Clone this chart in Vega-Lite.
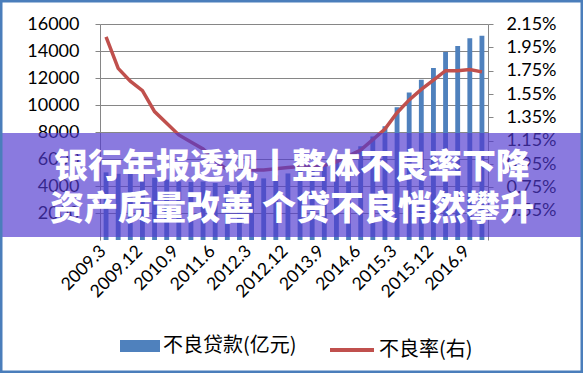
{
  "$schema": "https://vega.github.io/schema/vega-lite/v6.json",
  "width": 388,
  "height": 216,
  "autosize": {"type": "none"},
  "padding": {"left": 100, "top": 24, "right": 95, "bottom": 133},
  "background": "white",
  "config": {"view": {"stroke": null}},
  "data": {"values": [
    {"q": "2009.3", "npl": 5011, "rate": 2.04},
    {"q": "2009.6", "npl": 4904, "rate": 1.77},
    {"q": "2009.9", "npl": 4980, "rate": 1.66},
    {"q": "2009.12", "npl": 4973, "rate": 1.58},
    {"q": "2010.3", "npl": 4614, "rate": 1.40},
    {"q": "2010.6", "npl": 4470, "rate": 1.30},
    {"q": "2010.9", "npl": 4350, "rate": 1.20},
    {"q": "2010.12", "npl": 4293, "rate": 1.14},
    {"q": "2011.3", "npl": 4333, "rate": 1.08},
    {"q": "2011.6", "npl": 4220, "rate": 0.98},
    {"q": "2011.9", "npl": 4078, "rate": 0.90},
    {"q": "2011.12", "npl": 4279, "rate": 0.92},
    {"q": "2012.3", "npl": 4382, "rate": 0.90},
    {"q": "2012.6", "npl": 4564, "rate": 0.90},
    {"q": "2012.9", "npl": 4788, "rate": 0.91},
    {"q": "2012.12", "npl": 4929, "rate": 0.92},
    {"q": "2013.3", "npl": 5265, "rate": 0.93},
    {"q": "2013.6", "npl": 5395, "rate": 0.93},
    {"q": "2013.9", "npl": 5636, "rate": 0.94},
    {"q": "2013.12", "npl": 5921, "rate": 0.97},
    {"q": "2014.3", "npl": 6461, "rate": 1.02},
    {"q": "2014.6", "npl": 6944, "rate": 1.07},
    {"q": "2014.9", "npl": 7669, "rate": 1.16},
    {"q": "2014.12", "npl": 8426, "rate": 1.25},
    {"q": "2015.3", "npl": 9825, "rate": 1.39},
    {"q": "2015.6", "npl": 10919, "rate": 1.50},
    {"q": "2015.9", "npl": 11863, "rate": 1.59},
    {"q": "2015.12", "npl": 12744, "rate": 1.67},
    {"q": "2016.3", "npl": 13921, "rate": 1.75},
    {"q": "2016.6", "npl": 14373, "rate": 1.75},
    {"q": "2016.9", "npl": 14939, "rate": 1.76},
    {"q": "2016.12", "npl": 15122, "rate": 1.74}
  ]},
  "layer": [
    {
      "mark": {"type": "bar", "color": "#4F81BD"},
      "encoding": {
        "x": {
          "field": "q", "type": "ordinal", "sort": null,
          "scale": {"paddingInner": 0.6, "paddingOuter": 0.3},
          "axis": {
            "title": null, "domain": false, "ticks": false, "grid": false,
            "values": ["2009.3", "2009.12", "2010.9", "2011.6", "2012.3", "2012.12", "2013.9", "2014.6", "2015.3", "2015.12", "2016.9"],
            "labelAngle": -45, "labelFont": "Lato", "labelFontSize": 17.5, "labelColor": "#000", "labelPadding": 2, "labelOffset": -9
          }
        },
        "y": {
          "field": "npl", "type": "quantitative",
          "scale": {"domain": [0, 16000], "nice": false},
          "axis": {
            "title": null, "orient": "left",
            "values": [2000, 4000, 6000, 8000, 10000, 12000, 14000, 16000],
            "format": "d",
            "grid": true, "gridColor": "#868686", "gridWidth": 1, "gridOpacity": 1,
            "domain": true, "domainColor": "#868686", "tickColor": "#868686", "tickSize": 5,
            "labelFont": "Lato", "labelFontSize": 18, "labelColor": "#000", "labelPadding": 16
          }
        },
        "fill": {
          "datum": "不良贷款(亿元)",
          "scale": {"range": ["#4F81BD"]},
          "legend": {
            "title": null, "orient": "none", "legendX": 20, "legendY": 302, "padding": 0,
            "symbolType": "M-1,-0.3H1V0.3H-1Z", "symbolSize": 1600, "symbolStrokeWidth": 0,
            "labelFont": "Noto Sans CJK SC", "labelFontSize": 20, "labelColor": "#000", "labelOffset": 3
          }
        }
      }
    },
    {
      "mark": {"type": "line", "strokeWidth": 3.5},
      "encoding": {
        "x": {"field": "q", "type": "ordinal", "sort": null},
        "y": {
          "field": "rate", "type": "quantitative",
          "scale": {"domain": [0.3, 2.15], "nice": false, "zero": false},
          "axis": {
            "title": null, "orient": "right",
            "values": [0.55, 0.75, 0.95, 1.15, 1.35, 1.55, 1.75, 1.95, 2.15],
            "labelExpr": "format(datum.value, '.2f') + '%'",
            "grid": false, "domain": true, "domainColor": "#868686", "tickColor": "#868686", "tickSize": 5,
            "labelFont": "Lato", "labelFontSize": 18, "labelColor": "#000", "labelPadding": 13
          }
        },
        "stroke": {
          "datum": "不良率(右)",
          "scale": {"range": ["#C0504D"]},
          "legend": {
            "title": null, "orient": "none", "legendX": 228, "legendY": 302, "padding": 0,
            "symbolType": "stroke", "symbolSize": 1936, "symbolStrokeWidth": 4,
            "labelFont": "Noto Sans CJK SC", "labelFontSize": 20, "labelColor": "#000", "labelOffset": 3
          }
        }
      }
    },
    {
      "data": {"values": [{"k": "banner"}]},
      "mark": {"type": "rect", "color": "#5139D0", "opacity": 0.67},
      "encoding": {
        "x": {"value": -100}, "x2": {"value": 483},
        "y": {"value": 109}, "y2": {"value": 213}
      }
    },
    {
      "data": {"values": [{"t": "银行年报透视丨整体不良率下降\n资产质量改善 个贷不良悄然攀升"}]},
      "mark": {"type": "text", "lineBreak": "\n", "lineHeight": 42, "font": "Noto Sans CJK SC", "fontSize": 34, "fontWeight": 900, "color": "#ffffff", "align": "center", "baseline": "middle"},
      "encoding": {
        "text": {"field": "t"},
        "x": {"value": 192}, "y": {"value": 144}
      }
    },
    {
      "data": {"values": [{"k": "frame"}]},
      "mark": {"type": "rect", "fill": null, "fillOpacity": 0, "stroke": "#4A7EBB", "strokeWidth": 2.5},
      "encoding": {
        "x": {"value": -98.75}, "x2": {"value": 481.75},
        "y": {"value": -22.75}, "y2": {"value": 347.75}
      }
    }
  ],
  "resolve": {"scale": {"y": "independent", "fill": "independent", "stroke": "independent"}}
}
